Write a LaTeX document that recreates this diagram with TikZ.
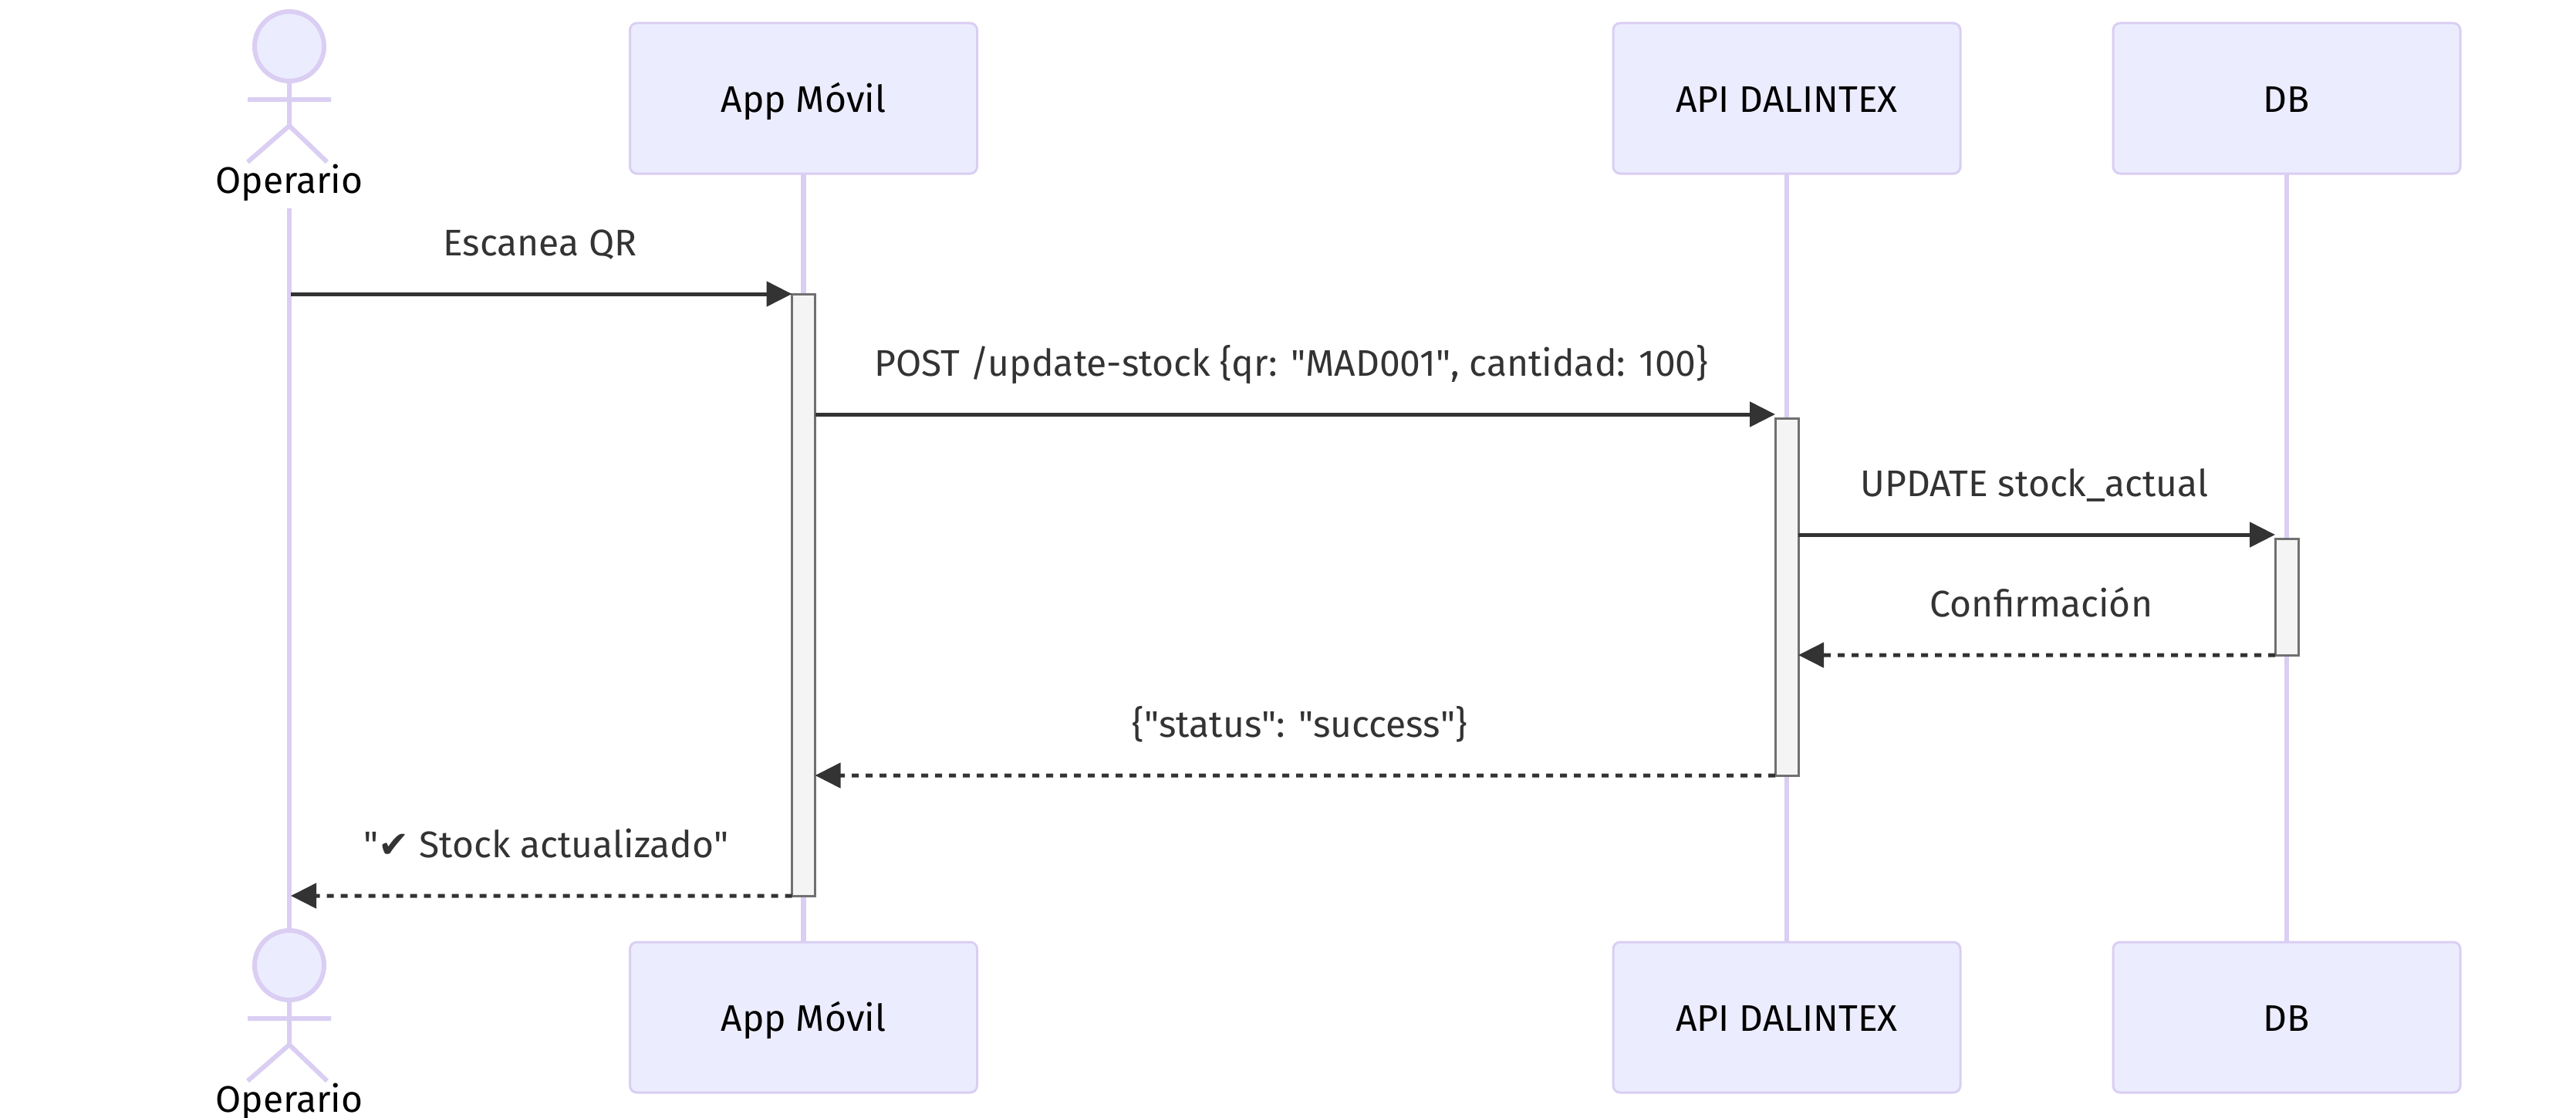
\documentclass[tikz,border=0pt]{standalone}
\usepackage{fontspec}
\usepackage{xcolor}
\usepackage{tikz}
\usetikzlibrary{arrows.meta, positioning}
\setmainfont{Fira Sans}
\newfontfamily\symfont{DejaVu Sans}
\definecolor{ActorFill}{HTML}{ECECFF}
\definecolor{ActorLine}{HTML}{DACEF3}
\definecolor{ActFill}{HTML}{F4F4F4}
\definecolor{ActLine}{HTML}{707070}
\definecolor{MsgInk}{HTML}{333333}

\begin{document}
\begin{tikzpicture}[
		font=\fontsize{13.66}{16}\selectfont,
		BoxCfg/.style={
			draw=ActorLine, fill=ActorFill, line width=.03cm, rounded corners=.09cm,
			minimum width=4.5cm, minimum height=1.95cm, inner sep=0, outer sep=0,
			text height=.40cm, text depth=.05cm, text=black
		},
		HeadCfg/.style={
			circle, draw=ActorLine, fill=ActorFill, line width=.06cm,
			minimum size=.9cm, inner sep=0, outer sep=.03cm
		},
		StickCfg/.style={draw=ActorLine, line width=.06cm},
		NameCfg/.style={anchor=base, inner sep=0, text=black},
		LifeCfg/.style={draw=ActorLine, line width=.065cm},
		ActCfg/.style={
			anchor=north, draw=ActLine, fill=ActFill, line width=.03cm,
			minimum width=.3cm, inner sep=0, outer sep=0
		},
		MsgCfg/.style={
			draw=MsgInk, line width=.05cm,
			-{Triangle[length=.33cm, width=.32cm]}
		},
		RetCfg/.style={MsgCfg, dash pattern=on .09cm off .09cm},
		TextCfg/.style={anchor=base, yshift=.50cm, inner sep=0, text=MsgInk}
		]
		
		\useasboundingbox (0,0) rectangle (33.39,-14.49);
		
		% top row
		\path
		(10.415,-1.275) node [BoxCfg] (AppTop) {App Móvil}
		(23.16,-1.275) node [BoxCfg] (ApiTop) {API DALINTEX}
		(29.64,-1.275) node [BoxCfg] (DbTop) {DB}
		(3.75,-0.6) node [HeadCfg] (HeadTop) {}
		(3.75,-2.50) node [NameCfg] (NameTop) {Operario};
		
		\coordinate (HipTop) at (3.75,-1.63);
		\coordinate (ArmTopL) at (3.21,-1.29);
		\coordinate (ArmTopR) at (4.29,-1.29);
		\coordinate (FootTopL) at (3.21,-2.10);
		\coordinate (FootTopR) at (4.24,-2.10);
		\coordinate (LifeTop) at (3.75,-2.70);
		
		\draw [StickCfg]
		(HeadTop.south) -- (HipTop)
		(ArmTopL) -- (ArmTopR)
		(FootTopL) -- (HipTop) -- (FootTopR);
		
		% bottom row
		\begin{scope}[shift={(0,-11.91)}]
			\path
			(10.415,-1.275) node [BoxCfg] (AppBot) {App Móvil}
			(23.16,-1.275) node [BoxCfg] (ApiBot) {API DALINTEX}
			(29.64,-1.275) node [BoxCfg] (DbBot) {DB}
			(3.75,-0.6) node [HeadCfg] (HeadBot) {}
			(3.75,-2.50) node [NameCfg] (NameBot) {Operario};
			
			\coordinate (HipBot) at (3.75,-1.63);
			\coordinate (ArmBotL) at (3.21,-1.29);
			\coordinate (ArmBotR) at (4.29,-1.29);
			\coordinate (FootBotL) at (3.21,-2.10);
			\coordinate (FootBotR) at (4.24,-2.10);
			
			\draw [StickCfg]
			(HeadBot.south) -- (HipBot)
			(ArmBotL) -- (ArmBotR)
			(FootBotL) -- (HipBot) -- (FootBotR);
		\end{scope}
		
		% lifelines
		\draw [LifeCfg]
		(LifeTop) -- (HeadBot.north)
		(AppTop.south) -- (AppBot.north)
		(ApiTop.south) -- (ApiBot.north)
		(DbTop.south) -- (DbBot.north);
		
		% activations
		\path
		(10.415,-3.81) node [ActCfg, minimum height=7.8cm] (AppAct) {}
		(23.16,-5.42) node [ActCfg, minimum height=4.63cm] (ApiAct) {}
		(29.64,-6.98) node [ActCfg, minimum height=1.51cm] (DbAct) {};
		
		% message rows
		\coordinate (OpLine) at (3.77,-3.81);
		\coordinate (RowB) at (0,-5.37);
		\coordinate (RowC) at (0,-6.93);
		\coordinate (RowD) at (0,-8.49);
		\coordinate (RowE) at (0,-10.05);
		\coordinate (RowF) at (0,-11.61);
		
		\draw [MsgCfg] (OpLine) -- (AppAct.north west)
		node [midway, TextCfg, xshift=-.02cm] (MsgA) {Escanea QR};
		\draw [MsgCfg] (AppAct.east |- RowB) -- (ApiAct.west |- RowB)
		node [midway, TextCfg, xshift=-.05cm] (MsgB) {POST /update-stock \{qr: \textquotedbl MAD001\textquotedbl, cantidad: 100\}};
		\draw [MsgCfg] (ApiAct.east |- RowC) -- (DbAct.west |- RowC)
		node [midway, TextCfg, xshift=-.03cm] (MsgC) {UPDATE stock\_actual};
		\draw [RetCfg] (DbAct.south west) -- (ApiAct.east |- RowD)
		node [midway, TextCfg, xshift=.06cm] (MsgD) {Confirmación};
		\draw [RetCfg] (ApiAct.south west) -- (AppAct.east |- RowE)
		node [midway, TextCfg, xshift=.06cm] (MsgE) {\{\textquotedbl status\textquotedbl: \textquotedbl success\textquotedbl\}};
		\draw [RetCfg] (AppAct.south west) -- (OpLine |- RowF)
		node [midway, TextCfg, xshift=.06cm] (MsgF) {\textquotedbl{\symfont ✔} Stock actualizado\textquotedbl};
		
	\end{tikzpicture}
\end{document}
